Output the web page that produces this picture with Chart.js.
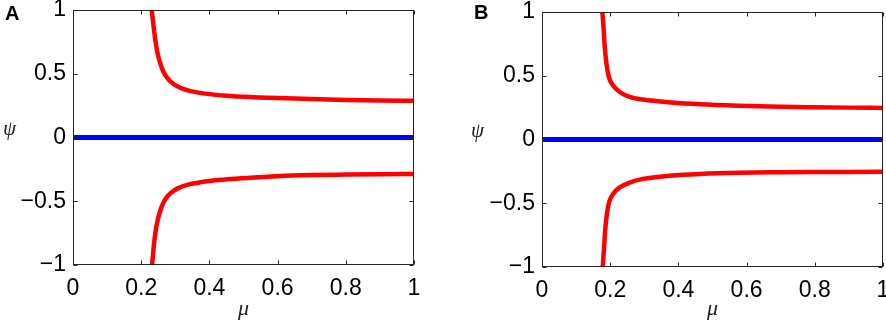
<!DOCTYPE html>
<html><head><meta charset="utf-8">
<script src="https://cdn.jsdelivr.net/npm/chart.js@4"></script>
<style>
html,body{margin:0;padding:0;background:#fff;}
#wrap{position:relative;width:886px;height:324px;overflow:hidden;background:#fff;}
canvas{position:absolute;top:0;}
.panel{position:absolute;font-family:"Liberation Sans",Arial,sans-serif;font-weight:bold;font-size:20px;line-height:20px;color:#000;}
.ylab{position:absolute;font-family:"Liberation Serif","Times New Roman",serif;font-style:italic;font-size:21px;line-height:21px;color:#222;}
</style></head><body>
<div id="wrap">
<canvas id="cA" width="443" height="324" style="left:0px"></canvas>
<canvas id="cB" width="443" height="324" style="left:443px"></canvas>
<div class="panel" style="left:5px;top:3px;">A</div>
<div class="panel" style="left:474px;top:2px;">B</div>
<div class="ylab" style="left:3px;top:118px;">ψ</div>
<div class="ylab" style="left:471px;top:120px;">ψ</div>
</div>
<script>
// ---- data ----
const xTicks = [0, 0.2, 0.4, 0.6, 0.8, 1];
const xTickLabels = ['0', '0.2', '0.4', '0.6', '0.8', '1'];
const yTicks = [-1, -0.5, 0, 0.5, 1];
const yTickLabels = ['\u22121', '\u22120.5', '0', '0.5', '1'];

const zeroMu = [0, 1];
const zeroPsi = [0, 0];

const muA_upper  = [0.231,0.237,0.242,0.249,0.259,0.270,0.288,0.307,0.337,0.376,0.439,0.5,0.6,0.7,0.8,0.9,1.0];
const psiA_upper = [1.0,0.857,0.753,0.648,0.557,0.491,0.434,0.400,0.369,0.348,0.330,0.320,0.309,0.301,0.295,0.291,0.288];
const muA_lower  = [0.232,0.237,0.242,0.249,0.259,0.270,0.288,0.307,0.337,0.376,0.44,0.5,0.6,0.7,0.8,0.9,1.0];
const psiA_lower = [-1.0,-0.85,-0.74,-0.64,-0.55,-0.487,-0.432,-0.399,-0.37,-0.35,-0.331,-0.319,-0.303,-0.295,-0.291,-0.288,-0.286];

const muB_upper  = [0.177,0.181,0.184,0.189,0.196,0.208,0.228,0.257,0.296,0.38,0.464,0.576,0.7,0.8,0.9,1.0];
const psiB_upper = [1.0,0.857,0.726,0.596,0.491,0.426,0.373,0.334,0.313,0.29,0.276,0.265,0.257,0.253,0.25,0.248];
const muB_lower  = [0.178,0.182,0.185,0.19,0.197,0.209,0.228,0.257,0.296,0.38,0.464,0.576,0.7,0.8,0.9,1.0];
const psiB_lower = [-1.0,-0.85,-0.72,-0.59,-0.49,-0.425,-0.375,-0.338,-0.309,-0.283,-0.27,-0.261,-0.257,-0.255,-0.254,-0.253];

// ---- helpers ----
function pts(xs, ys){ return xs.map((x,i)=>({x:x, y:ys[i]})); }
function labelFor(list, labels, v){
  let best = 0, d = Infinity;
  list.forEach((t,i)=>{ const dd = Math.abs(t - v); if (dd < d){ d = dd; best = i; } });
  return d < 1e-6 ? labels[best] : '';
}

const frameTicks = {
  id: 'frameTicks',
  afterDraw(chart){
    const {ctx, chartArea: a, scales: {x, y}} = chart;
    ctx.save();
    ctx.strokeStyle = '#262626';
    ctx.lineWidth = 1;
    const L = Math.round(a.left) + 0.5, R = Math.round(a.right) - 0.5;
    const T = Math.round(a.top) + 0.5, B = Math.round(a.bottom) - 0.5;
    ctx.strokeRect(L, T, R - L, B - T);
    const len = 4;
    ctx.beginPath();
    x.ticks.forEach(t => {
      const p = Math.round(x.getPixelForValue(t.value)) + 0.5;
      ctx.moveTo(p, B); ctx.lineTo(p, B - len);
      ctx.moveTo(p, T); ctx.lineTo(p, T + len);
    });
    y.ticks.forEach(t => {
      const p = Math.round(y.getPixelForValue(t.value)) + 0.5;
      ctx.moveTo(L, p); ctx.lineTo(L + len, p);
      ctx.moveTo(R, p); ctx.lineTo(R - len, p);
    });
    ctx.stroke();
    ctx.restore();
  }
};

function makeChart(id, up, lo, yWidth, xHeight, pad){
  const red = '#ff0000', blue = '#0000ff';
  return new Chart(document.getElementById(id), {
    type: 'line',
    data: {
      datasets: [
        {data: pts(zeroMu, zeroPsi), borderColor: blue, borderWidth: 5, pointRadius: 0, clip: 0, borderCapStyle: 'butt'},
        {data: up, borderColor: red, borderWidth: 4.5, pointRadius: 0, clip: 0, cubicInterpolationMode: 'monotone'},
        {data: lo, borderColor: red, borderWidth: 4.5, pointRadius: 0, clip: 0, cubicInterpolationMode: 'monotone'}
      ]
    },
    options: {
      responsive: false,
      animation: false,
      events: [],
      layout: {padding: pad},
      plugins: {legend: {display: false}, tooltip: {enabled: false}, title: {display: false}},
      scales: {
        x: {
          type: 'linear', min: 0, max: 1,
          grid: {display: false, drawTicks: false},
          border: {display: false},
          ticks: {
            stepSize: 0.2, padding: 10, color: '#000', maxRotation: 0, autoSkip: false,
            font: {family: '"Liberation Sans", Arial, sans-serif', size: 23},
            callback: (v) => labelFor(xTicks, xTickLabels, v)
          },
          title: {
            display: true, text: 'μ', color: '#222', padding: {top: 0, bottom: 2},
            font: {family: '"Liberation Serif", "Times New Roman", serif', size: 22, style: 'italic'}
          },
          afterFit(s){ s.height = xHeight; s.paddingLeft = 0; s.paddingRight = 0; }
        },
        y: {
          type: 'linear', min: -1, max: 1,
          grid: {display: false, drawTicks: false},
          border: {display: false},
          ticks: {
            stepSize: 0.5, padding: 7, color: '#000',
            font: {family: '"Liberation Sans", Arial, sans-serif', size: 23},
            callback: (v) => labelFor(yTicks, yTickLabels, v)
          },
          afterFit(s){ s.width = yWidth; s.paddingTop = 0; s.paddingBottom = 0; }
        }
      }
    },
    plugins: [frameTicks]
  });
}

makeChart('cA', pts(muA_upper, psiA_upper), pts(muA_lower, psiA_lower), 73, 59, {left: 0, right: 29, top: 10, bottom: 0});
makeChart('cB', pts(muB_upper, psiB_upper), pts(muB_lower, psiB_lower), 99, 57, {left: 0, right: 3, top: 12, bottom: 0});
</script>
</body></html>
